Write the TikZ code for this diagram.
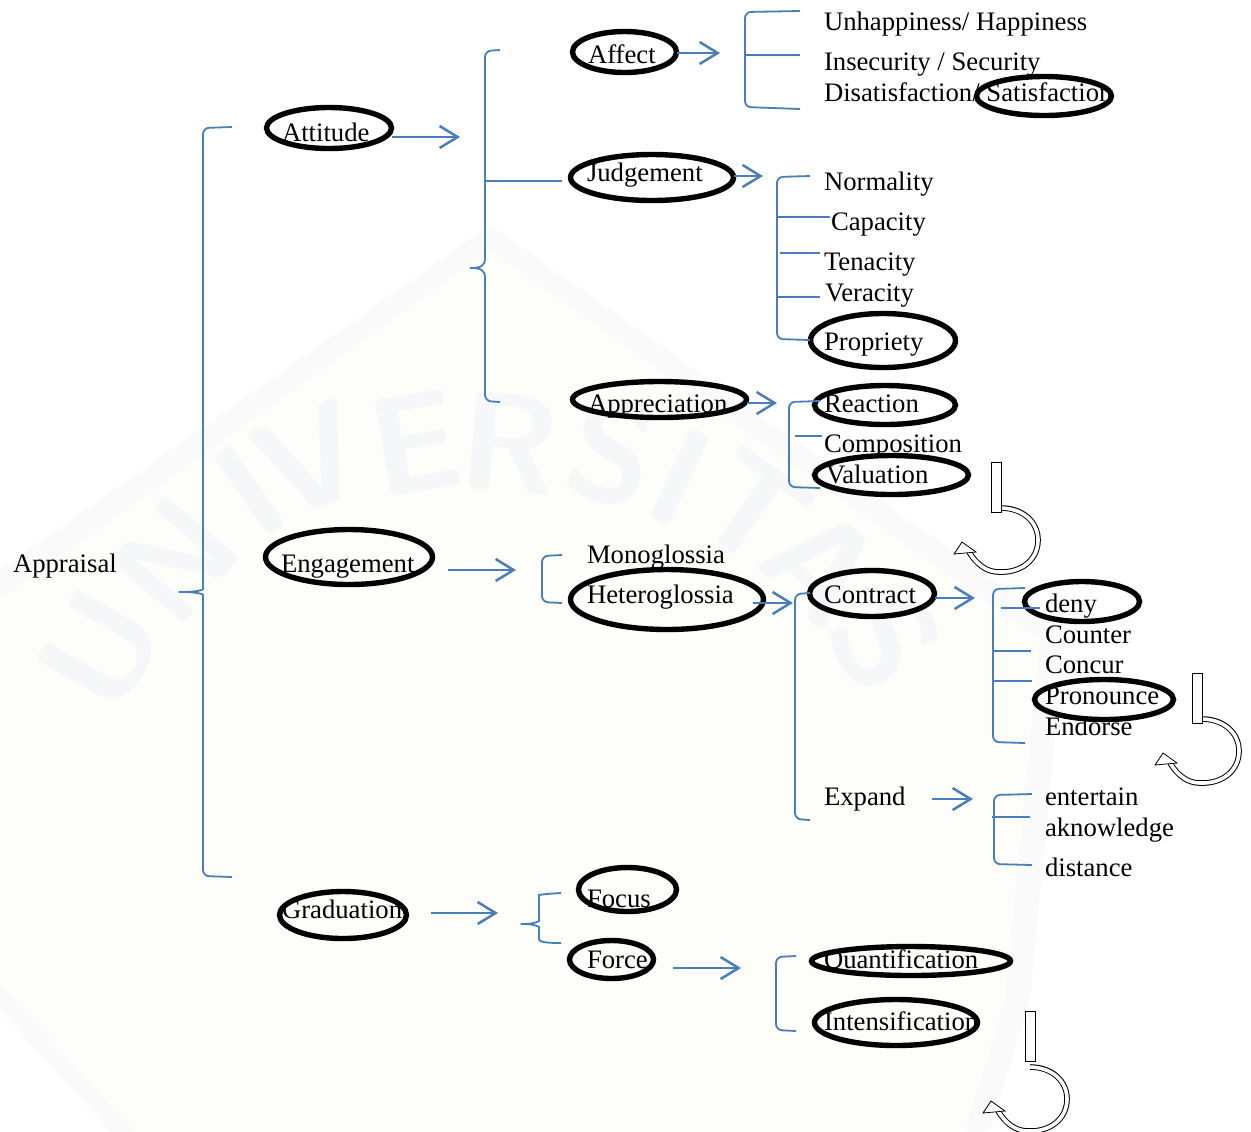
\documentclass[tikz,border=0pt]{standalone}
\usepackage{fontspec}
\setmainfont{Liberation Serif}
\usetikzlibrary{arrows.meta,shapes.geometric}
\definecolor{linkblue}{HTML}{4A7EBB}
\definecolor{wmband}{HTML}{F9FAF9}
\definecolor{wminner}{HTML}{FDFDF9}
\definecolor{wmletter}{HTML}{F6F7F8}
\tikzset{
  lab/.style={anchor=base west, inner sep=0pt, outer sep=0pt, font=\fontsize{13.35}{15}\selectfont},
  oval/.style 2 args={draw, ellipse, line width=2.7pt, inner sep=0pt, outer sep=0pt, minimum width=#1*.5pt, minimum height=#2*.5pt},
  link/.style={draw=linkblue, line width=1.25pt, -{Straight Barb[length=9pt,width=11pt,line width=1.25pt]}},
  twig/.style={draw=linkblue, line width=1.05pt},
  brak/.style={draw=linkblue, line width=.9pt, rounded corners=3pt},
  wmark/.style={font=\fontsize{70}{70}\sffamily\bfseries\selectfont, text=wmletter, inner sep=0pt},
  turnbar/.pic={
    \draw[line width=.4pt, fill=white] (0,0) rectangle (10,50);
  },
  turncurve/.pic={
    \draw[line width=2.8pt] (0,0) .. controls (22,0) and (37,14) .. (37,32) .. controls (37,52) and (20,65) .. (-2,64) .. controls (-14,64) and (-24,57) .. (-32,44);
    \draw[line width=1.8pt, white] (-1,0) .. controls (22,0) and (37,14) .. (37,32) .. controls (37,52) and (20,65) .. (-2,64) .. controls (-14,64) and (-24,57) .. (-32,44);
    \draw[line width=.4pt, fill=white] (-47,46) -- (-39,34) -- (-25,44) -- cycle;
  }
}
\begin{document}
\begin{tikzpicture}[x=.5pt,y=-.5pt]
\useasboundingbox (0,0) rectangle (1251,1131);
\begin{scope}
\clip (0,0) rectangle (1251,1131);
% watermark
\fill[wmband] (490,225) -- (1065,630) -- (1030,1000) -- (990,1131) -- (110,1131) -- (0,1010) -- (0,570) -- cycle;
\fill[wminner] (490,250) -- (1040,640) -- (1005,1000) -- (965,1131) -- (135,1131) -- (0,985) -- (0,600) -- cycle;
\foreach \ltr/\px/\py/\rot [count=\i] in {U/100/650/60,N/175/560/50,I/250/490/35,V/310/460/22,E/415/443/10,R/510/443/-5,S/612/453/-15,I/680/477/-25,T/752/510/-35,A/823/565/-45,S/886/640/-55}
  \node[wmark, rotate=\rot] (wm\i) at (\px,\py){\ltr};
\end{scope}
% ovals
\node[oval={125}{41}] (attitudeOval) at (329,128){};
\node[oval={104}{41}] (affectOval) at (624.5,52){};
\node[oval={135}{39}] (satisfactionOval) at (1044,96){};
\node[oval={163}{46}] (judgementOval) at (652,177.5){};
\node[oval={145}{54}] (proprietyOval) at (883,340.5){};
\node[oval={174}{36}] (appreciationOval) at (659.5,399.5){};
\node[oval={141}{39}] (reactionOval) at (885,405){};
\node[oval={154}{39}] (valuationOval) at (891.5,475){};
\node[oval={167}{55}] (engagementOval) at (349,557){};
\node[oval={193}{60}] (heteroglossiaOval) at (667,599.5){};
\node[oval={125}{46}] (contractOval) at (872,593.5){};
\node[oval={115}{40}] (denyOval) at (1082,601.5){};
\node[oval={139}{40}] (pronounceOval) at (1104,699.5){};
\node[oval={127}{47}] (graduationOval) at (343,915){};
\node[oval={98}{44}] (focusOval) at (627.5,889.5){};
\node[oval={84}{38}] (forceOval) at (611.5,959.5){};
\node[oval={199}{29}] (quantificationOval) at (911,961){};
\node[oval={163}{46}] (intensificationOval) at (896,1022.5){};
% labels
\node[lab] (appraisal) at (13,572){Appraisal};
\node[lab] (attitude) at (282,141){Attitude};
\node[lab] (affect) at (588,63){Affect};
\node[lab] (unhappiness) at (824,30){Unhappiness/ Happiness};
\node[lab] (insecurity) at (824,70){Insecurity / Security};
\node[lab] (disatisfaction) at (824,101){Disatisfaction/ Satisfaction};
\node[lab] (judgement) at (587,181){Judgement};
\node[lab] (normality) at (824,190){Normality};
\node[lab] (capacity) at (831,230){Capacity};
\node[lab] (tenacity) at (824,270){Tenacity};
\node[lab] (veracity) at (825,301){Veracity};
\node[lab] (propriety) at (824,350){Propriety};
\node[lab] (appreciation) at (588,412){Appreciation};
\node[lab] (reaction) at (824,412){Reaction};
\node[lab] (composition) at (824,452){Composition};
\node[lab] (valuation) at (826,483){Valuation};
\node[lab] (engagement) at (281,572){Engagement};
\node[lab] (monoglossia) at (587,563){Monoglossia};
\node[lab] (heteroglossia) at (587,603){Heteroglossia};
\node[lab] (contract) at (824,603){Contract};
\node[lab] (deny) at (1045,612){deny};
\node[lab] (counter) at (1045,643){Counter};
\node[lab] (concur) at (1045,673){Concur};
\node[lab] (pronounce) at (1045,704){Pronounce};
\node[lab] (endorse) at (1045,735){Endorse};
\node[lab] (expand) at (824,805){Expand};
\node[lab] (entertain) at (1045,805){entertain};
\node[lab] (aknowledge) at (1045,836){aknowledge};
\node[lab] (distance) at (1045,876){distance};
\node[lab] (graduation) at (282,918){Graduation};
\node[lab] (focus) at (587,907){Focus};
\node[lab] (force) at (587,968){Force};
\node[lab] (quantification) at (824,968){Quantification};
\node[lab] (intensification) at (824,1030){Intensification};
% arrows
\coordinate (attitudeEnd) at (460,137);
\coordinate (affectEnd) at (720,53);
\coordinate (judgementEnd) at (763,176);
\coordinate (appreciationEnd) at (777,403);
\coordinate (engagementStart) at (448,570);
\coordinate (engagementEnd) at (516,570);
\coordinate (heteroglossiaStart) at (753,603);
\coordinate (heteroglossiaEnd) at (793,603);
\coordinate (contractEnd) at (975,598);
\coordinate (expandStart) at (932,799);
\coordinate (expandEnd) at (973,799);
\coordinate (graduationStart) at (431,913);
\coordinate (graduationEnd) at (498,913);
\coordinate (forceStart) at (673,968);
\coordinate (forceEnd) at (741,968);
\draw[link] (attitudeOval.east |- attitudeEnd) -- (attitudeEnd);
\draw[link] (affectOval.east |- affectEnd) -- (affectEnd);
\draw[link] (judgementOval.east |- judgementEnd) -- (judgementEnd);
\draw[link] (appreciationOval.east |- appreciationEnd) -- (appreciationEnd);
\draw[link] (engagementStart) -- (engagementEnd);
\draw[link] (heteroglossiaStart) -- (heteroglossiaEnd);
\draw[link] (contractOval.east |- contractEnd) -- (contractEnd);
\draw[link] (expandStart) -- (expandEnd);
\draw[link] (graduationStart) -- (graduationEnd);
\draw[link] (forceStart) -- (forceEnd);
% brackets
\draw[brak] (232,127) -- (203,128) -- (203,583) .. controls (203,590) and (197,592) .. (175,592) .. controls (197,592) and (203,594) .. (203,601) -- (203,876) -- (232,877);
\draw[brak, rounded corners=0pt] (485,258) .. controls (485,266) and (481,268) .. (470,268) .. controls (481,268) and (485,270) .. (485,278);
\draw[brak] (485,258) -- (485,51) -- (500,50);
\draw[brak] (485,278) -- (485,401) -- (500,402);
\draw[brak] (800,11) -- (745,12) -- (745,107) -- (800,109);
\draw[brak] (810,176) -- (777,177) -- (777,339) -- (810,340);
\draw[brak] (820,401) -- (789,402) -- (789,487) -- (820,488);
\draw[brak] (562,555) -- (542,556) -- (542,602) -- (562,603);
\draw[brak] (810,593) -- (795,594) -- (795,819) -- (810,820);
\draw[brak] (1025,588) -- (993,589) -- (993,742) -- (1025,743);
\draw[brak] (1032,794) -- (994,795) -- (994,864) -- (1032,865);
\draw[brak] (796,956) -- (776,957) -- (776,1030) -- (796,1031);
\draw[brak] (561,893) -- (545,894) .. controls (539,895) and (539,900) .. (539,915) .. controls (539,921) and (535,924) .. (517,924) .. controls (535,924) and (539,927) .. (539,933) .. controls (539,941) and (541,943) .. (561,943);
% branches
\coordinate (judgeA) at (485,181);
\coordinate (judgeB) at (562,181);
\draw[twig] (judgeA) -- (judgeB);
\coordinate (affectA) at (745,55);
\coordinate (affectB) at (800,55);
\draw[twig] (affectA) -- (affectB);
\coordinate (capacityA) at (777,217);
\coordinate (capacityB) at (830,217);
\draw[twig] (capacityA) -- (capacityB);
\coordinate (tenacityA) at (780,253);
\coordinate (tenacityB) at (820,253);
\draw[twig] (tenacityA) -- (tenacityB);
\coordinate (veracityA) at (778,297);
\coordinate (veracityB) at (820,297);
\draw[twig] (veracityA) -- (veracityB);
\coordinate (compositionA) at (795,436);
\coordinate (compositionB) at (822,436);
\draw[twig] (compositionA) -- (compositionB);
\coordinate (denyA) at (1001,608);
\coordinate (denyB) at (1040,608);
\draw[twig] (denyA) -- (denyB);
\coordinate (counterA) at (993,651);
\coordinate (counterB) at (1031,651);
\draw[twig] (counterA) -- (counterB);
\coordinate (concurA) at (993,681);
\coordinate (concurB) at (1032,681);
\draw[twig] (concurA) -- (concurB);
\coordinate (aknowledgeA) at (992,817);
\coordinate (aknowledgeB) at (1030,817);
\draw[twig] (aknowledgeA) -- (aknowledgeB);
% turning arrows
\pic at (1001,508) {turncurve};
\pic at (991,462) {turnbar};
\pic at (1202,719) {turncurve};
\pic at (1192,673) {turnbar};
\pic at (1030,1067) {turncurve};
\pic at (1025,1011) {turnbar};
\end{tikzpicture}
\end{document}
